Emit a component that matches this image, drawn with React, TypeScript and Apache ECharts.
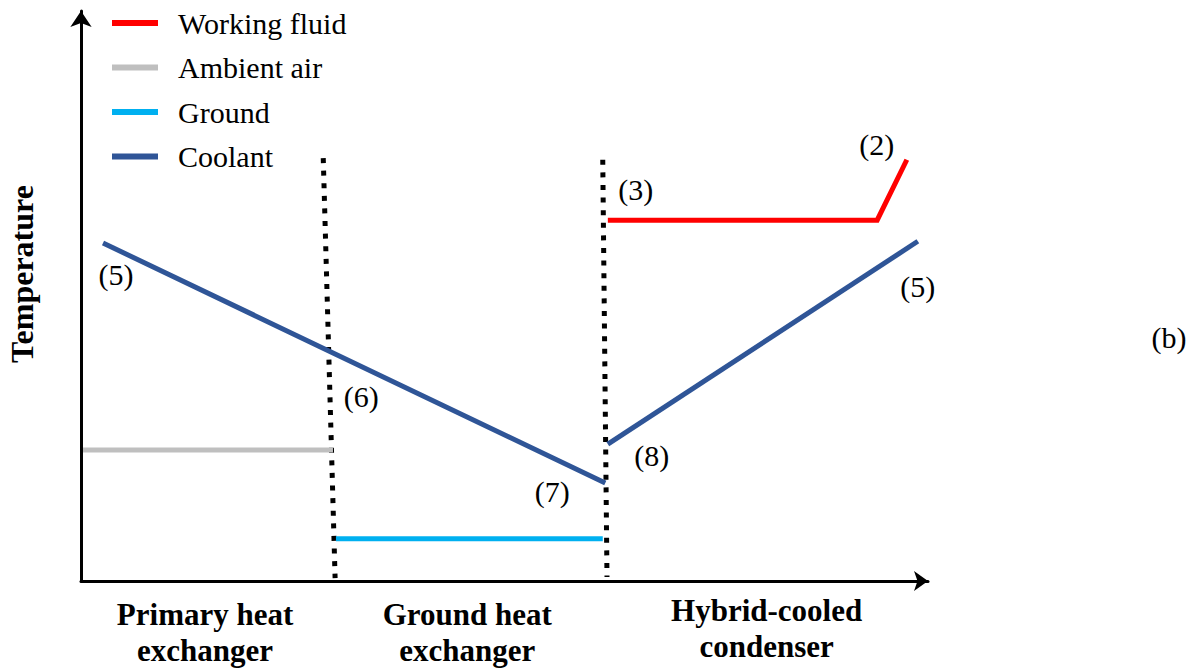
import React, { useEffect, useRef } from "react";
import * as echarts from "echarts";

const FONT = "Liberation Serif";

// Legend entries, in display order
const legendNames = ["Working fluid", "Ambient air", "Ground", "Coolant"];

// Heat-exchange stages along the horizontal axis and the stage boundaries (x units, 0-100)
const stageNames = ["Primary heat\nexchanger", "Ground heat\nexchanger", "Hybrid-cooled\ncondenser"];
const stageEdges = [0, 29.3, 61.9, 100];

// Temperature profiles: [position, relative temperature]
const workingFluid = [
  [62.2, 63.3],
  [94.0, 63.3],
  [97.5, 73.9],
];
const workingFluidStates = ["(3)", "", "(2)"];

const ambientAir = [
  [0.24, 23.0],
  [29.75, 23.0],
];

const ground = [
  [30.1, 7.4],
  [61.6, 7.4],
];

const coolantPrimary = [
  [2.6, 59.3],
  [29.2, 40.4],
  [61.9, 17.2],
];
const coolantPrimaryStates = ["(5)", "(6)", "(7)"];

const coolantCondenser = [
  [62.2, 24.0],
  [98.8, 59.6],
];
const coolantCondenserStates = ["(8)", "(5)"];

// Stage boundary markers
const dividerA = [
  [28.6, 74.2],
  [30.0, 0.5],
];
const dividerB = [
  [61.6, 73.9],
  [62.1, 0.7],
];

const COLORS = {
  working: "#FF0000",
  ambient: "#BFBFBF",
  ground: "#00B0F0",
  coolant: "#2F5597",
};

// Attach state-point captions to the points of a profile
function withStates(points: number[][], states: string[], offsets: number[][]) {
  return points.map((p, i) =>
    states[i]
      ? {
          value: p,
          label: {
            show: true,
            formatter: states[i],
            offset: offsets[i],
            position: "inside",
            fontFamily: FONT,
            fontSize: 30,
            color: "#000",
          },
        }
      : { value: p }
  );
}

function profile(name: string, color: string, data: any[]) {
  return {
    type: "line",
    name,
    data,
    symbol: "circle",
    symbolSize: 0,
    clip: false,
    silent: true,
    lineStyle: { color, width: 5, cap: "butt", join: "miter" },
    itemStyle: { color },
    label: { show: false },
    emphasis: { disabled: true },
  };
}

function divider(data: number[][]) {
  return {
    type: "line",
    name: "divider",
    data,
    symbol: "none",
    clip: false,
    silent: true,
    lineStyle: { color: "#000", width: 5, type: [5, 7.6], cap: "butt" },
    emphasis: { disabled: true },
  };
}

export default function App() {
  const ref = useRef<HTMLDivElement>(null);

  useEffect(() => {
    if (!ref.current) return;
    const chart = echarts.init(ref.current, null, { renderer: "svg" });

    const axisCommon = {
      type: "value",
      min: 0,
      max: 100,
      axisTick: { show: false },
      axisLabel: { show: false },
      splitLine: { show: false },
    };

    chart.setOption({
      animation: false,
      backgroundColor: "#fff",
      grid: { left: 81, right: 268, top: 11, bottom: 91 },
      xAxis: {
        ...axisCommon,
        axisLine: {
          show: true,
          onZero: false,
          lineStyle: { color: "#000", width: 3 },
          symbol: ["none", "arrow"],
          symbolSize: [15, 14],
        },
      },
      yAxis: {
        ...axisCommon,
        axisLine: {
          show: true,
          onZero: false,
          lineStyle: { color: "#000", width: 3 },
          symbol: ["none", "arrow"],
          symbolSize: [16, 16],
        },
      },
      legend: {
        data: legendNames,
        orient: "vertical",
        left: 112,
        top: 8,
        padding: 0,
        icon: "rect",
        itemWidth: 46,
        itemHeight: 6,
        itemGap: 14.5,
        selectedMode: false,
        textStyle: {
          fontFamily: FONT,
          fontSize: 30,
          lineHeight: 30,
          color: "#000",
          padding: [0, 0, 0, 15],
        },
      },
      series: [
        divider(dividerA),
        divider(dividerB),
        profile("Ambient air", COLORS.ambient, ambientAir),
        profile("Ground", COLORS.ground, ground),
        profile(
          "Coolant",
          COLORS.coolant,
          withStates(coolantPrimary, coolantPrimaryStates, [
            [13, 32],
            [33, 46],
            [-53, 9],
          ])
        ),
        profile(
          "Coolant",
          COLORS.coolant,
          withStates(coolantCondenser, coolantCondenserStates, [
            [44, 11],
            [0, 45],
          ])
        ),
        profile(
          "Working fluid",
          COLORS.working,
          withStates(workingFluid, workingFluidStates, [
            [28, -31],
            [0, 0],
            [-30, -15],
          ])
        ),
      ],
    });

    // Stage captions sit centred between neighbouring boundaries
    const stageLabels = stageNames.map((name, i) => {
      const mid = (stageEdges[i] + stageEdges[i + 1]) / 2;
      const px = chart.convertToPixel({ xAxisIndex: 0 }, mid) as number;
      return {
        type: "text",
        x: px,
        y: i === 2 ? 628 : 632,
        silent: true,
        style: {
          text: name,
          fontFamily: FONT,
          fontSize: 31,
          fontWeight: "bold",
          lineHeight: 36,
          fill: "#000",
          align: "center",
          verticalAlign: "middle",
        },
      };
    });

    chart.setOption({
      graphic: [
        {
          type: "text",
          x: 22,
          y: 274,
          rotation: Math.PI / 2,
          silent: true,
          style: {
            text: "Temperature",
            fontFamily: FONT,
            fontSize: 32,
            fontWeight: "bold",
            fill: "#000",
            align: "center",
            verticalAlign: "middle",
          },
        },
        {
          type: "text",
          x: 1169,
          y: 337,
          silent: true,
          style: {
            text: "(b)",
            fontFamily: FONT,
            fontSize: 30,
            fill: "#000",
            align: "center",
            verticalAlign: "middle",
          },
        },
        ...stageLabels,
      ],
    });

    return () => chart.dispose();
  }, []);

  return (
    <div
      ref={ref}
      style={{ position: "absolute", left: 0, top: 0, width: 1196, height: 672, background: "#fff" }}
    />
  );
}
